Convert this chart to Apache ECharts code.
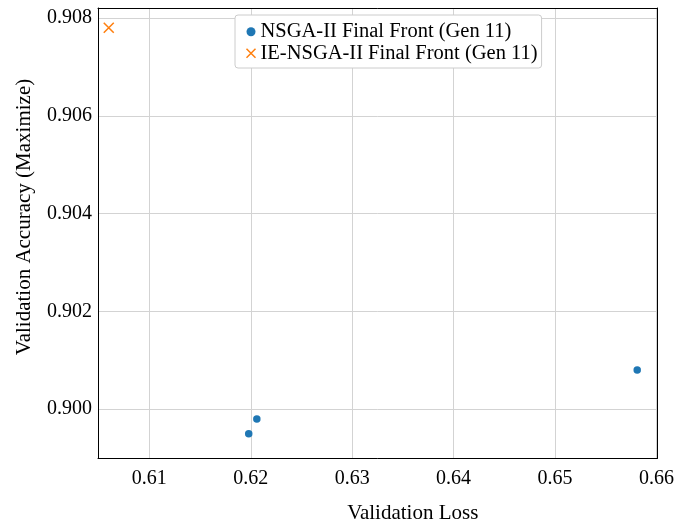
<!DOCTYPE html>
<html>
<head>
<meta charset="utf-8">
<script src="https://cdn.jsdelivr.net/npm/echarts@6/dist/echarts.min.js"></script>
<style>
  html, body { margin: 0; padding: 0; background: #fff; }
  #chart { width: 692px; height: 526px; }
</style>
</head>
<body>
<div id="chart"></div>
<script>
// Final Pareto fronts after generation 11: [validation loss, validation accuracy]
const seriesNames = ['NSGA-II Final Front (Gen 11)', 'IE-NSGA-II Final Front (Gen 11)'];
const nsgaLoss = [0.6198, 0.6206, 0.6581];
const nsgaAcc = [0.8995, 0.8998, 0.9008];
const ieLoss = [0.6060];
const ieAcc = [0.9078];

const xAxisTitle = 'Validation Loss';
const yAxisTitle = 'Validation Accuracy (Maximize)';

const X_RANGE = [0.60494, 0.6601];
const Y_RANGE = [0.899003, 0.908204];

const FONT = 'Liberation Serif';
const crossPath = 'path://M0,0L10,10M10,0L0,10';

const pairs = (xs, ys) => xs.map((x, i) => [x, ys[i]]);

// Plain frame axes for the top and right spines
const frameLine = { show: true, onZero: false, lineStyle: { color: '#000', width: 1 } };
const spineOnly = (extra) => Object.assign({
  type: 'value',
  axisLine: frameLine,
  axisTick: { show: false },
  axisLabel: { show: false },
  splitLine: { show: false }
}, extra);

const chart = echarts.init(document.getElementById('chart'), null, { renderer: 'canvas' });

chart.setOption({
  backgroundColor: '#ffffff',
  animation: false,
  textStyle: { fontFamily: FONT },
  grid: {
    left: 98, top: 8, right: 34.5, bottom: 68,
    outerBoundsMode: 'none',
    containLabel: false
  },
  legend: {
    orient: 'vertical',
    left: 235, top: 15,
    padding: [6, 4, 4, 9],
    itemGap: 0,
    itemWidth: 9, itemHeight: 9,
    itemTextGap: 12,
    backgroundColor: '#fff',
    borderColor: '#cccccc', borderWidth: 1, borderRadius: 3,
    textStyle: { fontFamily: FONT, fontSize: 20.5, color: '#000', lineHeight: 21.5 },
    data: [
      { name: seriesNames[0], icon: 'circle', itemStyle: { color: '#1f77b4', borderWidth: 0 } },
      { name: seriesNames[1], icon: crossPath,
        itemStyle: { color: 'none', borderColor: '#ff7f0e', borderWidth: 1.5 } }
    ]
  },
  xAxis: [
    {
      type: 'value',
      position: 'bottom',
      min: X_RANGE[0], max: X_RANGE[1],
      splitNumber: 5,
      name: xAxisTitle,
      nameLocation: 'middle',
      nameGap: 45,
      nameTextStyle: { fontFamily: FONT, fontSize: 21, color: '#000', padding: [0, 0, 0, 70] },
      axisLine: frameLine,
      axisTick: { show: false },
      axisLabel: {
        showMinLabel: false, showMaxLabel: false,
        margin: 11,
        fontFamily: FONT, fontSize: 20, color: '#000',
        formatter: v => v.toFixed(2)
      },
      splitLine: { show: true, lineStyle: { color: '#d3d3d3', width: 1 } }
    },
    spineOnly({ position: 'top', min: X_RANGE[0], max: X_RANGE[1] })
  ],
  yAxis: [
    {
      type: 'value',
      position: 'left',
      min: Y_RANGE[0], max: Y_RANGE[1],
      splitNumber: 5,
      name: yAxisTitle,
      nameLocation: 'middle',
      nameRotate: 90,
      nameGap: 63,
      nameTextStyle: { fontFamily: FONT, fontSize: 21, color: '#000', padding: [0, 0, 0, 32] },
      axisLine: frameLine,
      axisTick: { show: false },
      axisLabel: {
        showMinLabel: false, showMaxLabel: false,
        margin: 6,
        fontFamily: FONT, fontSize: 20, color: '#000',
        formatter: v => v.toFixed(3)
      },
      splitLine: { show: true, lineStyle: { color: '#d3d3d3', width: 1 } }
    },
    spineOnly({ position: 'right', min: Y_RANGE[0], max: Y_RANGE[1] })
  ],
  series: [
    {
      name: seriesNames[0],
      type: 'scatter',
      symbol: 'circle',
      symbolSize: 7.5,
      itemStyle: { color: '#1f77b4', opacity: 1 },
      data: pairs(nsgaLoss, nsgaAcc),
      z: 3
    },
    {
      name: seriesNames[1],
      type: 'scatter',
      symbol: crossPath,
      symbolSize: 10,
      itemStyle: { color: 'none', borderColor: '#ff7f0e', borderWidth: 1.5, opacity: 1 },
      data: pairs(ieLoss, ieAcc),
      z: 3
    }
  ]
});
</script>
</body>
</html>
